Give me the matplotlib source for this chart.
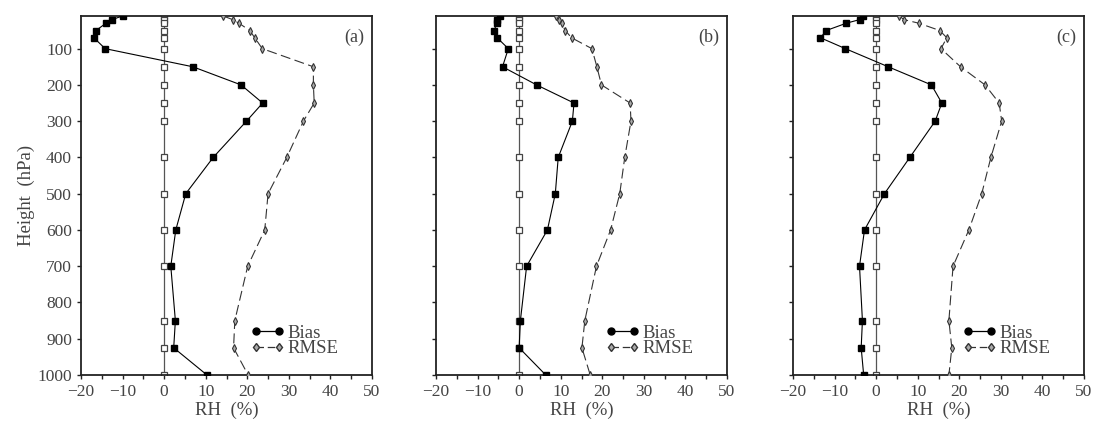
import matplotlib
matplotlib.use("Agg")
import matplotlib.pyplot as plt
from matplotlib.lines import Line2D
from matplotlib.ticker import MultipleLocator

plt.rcParams['font.family'] = ['Liberation Serif', 'DejaVu Serif']

levels = [10, 20, 30, 50, 70, 100, 150, 200, 250, 300, 400, 500, 600, 700, 850, 925, 1000]

bias_a = [-10.0, -12.6, -14.0, -16.4, -16.9, -14.2, 6.9, 18.5, 23.7, 19.8, 11.8, 5.2, 2.8, 1.6, 2.7, 2.3, 10.3]
rmse_a = [14.2, 16.5, 18.0, 20.6, 21.8, 23.6, 35.9, 35.9, 36.1, 33.5, 29.5, 25.0, 24.2, 20.1, 17.0, 16.7, 20.2]

bias_b = [-4.6, -5.3, -5.4, -6.0, -5.3, -2.6, -4.0, 4.2, 13.2, 12.8, 9.4, 8.7, 6.8, 1.8, 0.3, 0.0, 6.4]
rmse_b = [8.8, 9.6, 10.2, 11.1, 12.6, 17.5, 18.7, 19.8, 26.7, 26.9, 25.4, 24.2, 22.0, 18.6, 15.8, 15.1, 17.1]

bias_c = [-3.2, -4.0, -7.2, -12.0, -13.4, -7.4, 2.9, 13.3, 15.8, 14.2, 8.1, 2.0, -2.8, -4.0, -3.3, -3.6, -3.0]
rmse_c = [5.6, 6.7, 10.3, 15.3, 17.0, 15.6, 20.3, 26.2, 29.6, 30.2, 27.6, 25.4, 22.3, 18.5, 17.5, 18.2, 17.5]

zero_line = [0.0] * len(levels)

panels = ['(a)', '(b)', '(c)']
xticks = [-20, -10, 0, 10, 20, 30, 40, 50]
yticks = [100, 200, 300, 400, 500, 600, 700, 800, 900, 1000]

W, H = 1120, 433
fig = plt.figure(figsize=(W / 100, H / 100), dpi=100)

lefts = [81, 436, 793]
ax_w = 291
ax_top, ax_bot = 16, 375

text_col = '#444444'
data = [(bias_a, rmse_a), (bias_b, rmse_b), (bias_c, rmse_c)]

for i, (bias, rmse) in enumerate(data):
    ax = fig.add_axes([lefts[i] / W, 1 - ax_bot / H, ax_w / W, (ax_bot - ax_top) / H])
    ax.plot(zero_line, levels, color='#555555', lw=0.9, marker='s', ms=4.5,
            mfc='white', mec='#444444', mew=0.9, zorder=2)
    ax.plot(rmse, levels, color='#333333', lw=0.8, dashes=(9, 4), marker='d', ms=3.8,
            mfc='#aaaaaa', mec='#333333', mew=0.8, zorder=3)
    ax.plot(bias, levels, color='black', lw=0.8, marker='s', ms=3.8,
            mfc='black', mec='black', zorder=4)
    ax.set_xlim(-20, 50)
    ax.set_ylim(1000, 10)
    ax.set_xticks(xticks)
    ax.xaxis.set_minor_locator(MultipleLocator(5))
    ax.set_yticks(yticks)
    ax.tick_params(axis='both', which='both', direction='out', length=3, width=1,
                   labelsize=12.5, labelcolor=text_col, colors='#222222')
    ax.tick_params(axis='x', labelcolor=text_col)
    for s in ax.spines.values():
        s.set_linewidth(1.3)
        s.set_color('#222222')
    if i > 0:
        ax.set_yticklabels([])
    else:
        ax.set_ylabel('Height  (hPa)', fontsize=13.5, color=text_col, labelpad=2)
    ax.set_xlabel('RH  (%)', fontsize=13.5, color=text_col, labelpad=1)
    ax.text(0.975, 0.965, panels[i], transform=ax.transAxes, ha='right', va='top',
            fontsize=13, color=text_col)
    handles = [
        Line2D([], [], color='black', lw=0.9, marker='o', ms=5, mfc='black', mec='black'),
        Line2D([], [], color='#333333', lw=0.9, dashes=(6, 3), marker='d', ms=4.5,
               mfc='#aaaaaa', mec='#333333'),
    ]
    leg = ax.legend(handles, ['Bias', 'RMSE'], loc='center left',
                    bbox_to_anchor=(0.55, 0.095), frameon=False, fontsize=13.5,
                    handlelength=1.85, handletextpad=0.1, labelspacing=-0.1,
                    borderpad=0, numpoints=2)
    for t in leg.get_texts():
        t.set_color(text_col)

fig.savefig('out.png', dpi=100)
